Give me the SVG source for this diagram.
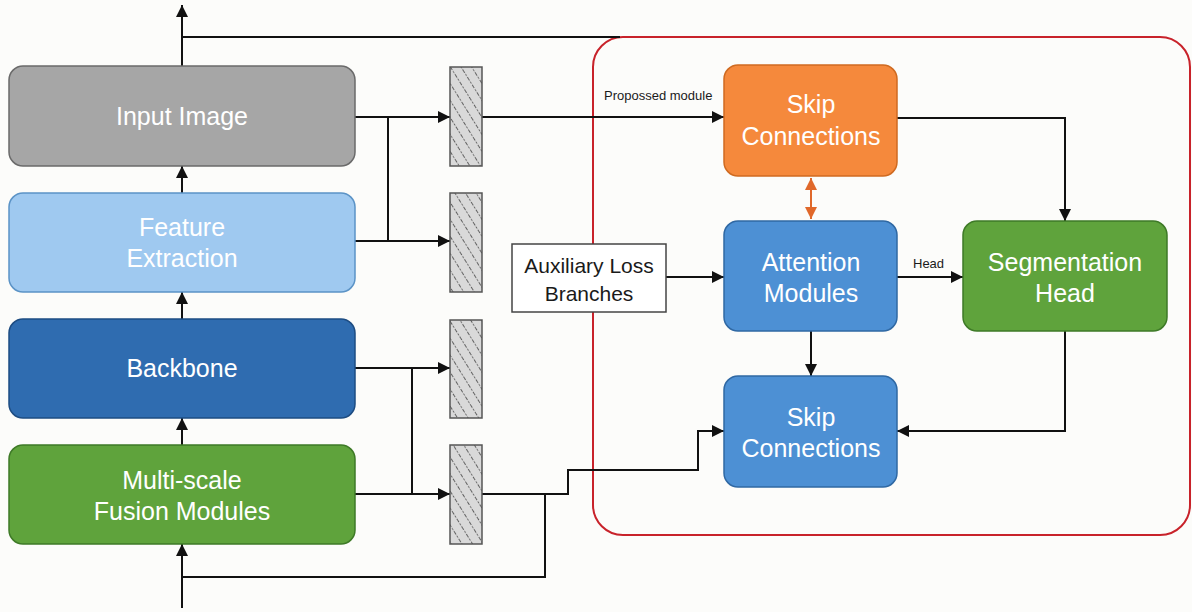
<svg xmlns="http://www.w3.org/2000/svg" width="1192" height="612" viewBox="0 0 1192 612">
<style>
.lbl{font-family:"Liberation Sans",Arial,sans-serif;font-size:25px;fill:#ffffff;text-anchor:middle}
.dark{font-family:"Liberation Sans",Arial,sans-serif;font-size:21px;fill:#1a1a1a;text-anchor:middle}
.small{font-family:"Liberation Sans",Arial,sans-serif;font-size:13px;fill:#1a1a1a}
.ln{fill:none;stroke:#111;stroke-width:2}
.hatch{fill:url(#hp);stroke:#555;stroke-width:1.5}
</style>
<defs>
<marker id="ahk" viewBox="0 0 10 10" refX="10" refY="5" markerWidth="13" markerHeight="12" orient="auto" markerUnits="userSpaceOnUse">
<path d="M0,0 L10,5 L0,10 z" fill="#111"/>
</marker>
<marker id="aho" viewBox="0 0 10 10" refX="10" refY="5" markerWidth="12" markerHeight="12" orient="auto-start-reverse" markerUnits="userSpaceOnUse">
<path d="M0,0 L10,5 L0,10 z" fill="#e0682a"/>
</marker>
<pattern id="hp" patternUnits="userSpaceOnUse" width="9" height="9" patternTransform="rotate(58)">
<rect width="9" height="9" fill="#d9d9d9"/>
<line x1="0" y1="4.5" x2="9" y2="4.5" stroke="#555" stroke-width="0.9" stroke-dasharray="2,1.5"/>
</pattern>
</defs>
<rect width="1192" height="612" fill="#fcfcfa"/>

<g id="proposed-region">
<rect x="593" y="37" width="597" height="498" rx="30" fill="none" stroke="#c8222a" stroke-width="2"/>
</g>

<g id="connectors">
<path class="ln" d="M182,66 V5" marker-end="url(#ahk)"/>
<path class="ln" d="M182,37 H620"/>
<path class="ln" d="M182,193 V166" marker-end="url(#ahk)"/>
<path class="ln" d="M182,319 V292" marker-end="url(#ahk)"/>
<path class="ln" d="M182,445 V418" marker-end="url(#ahk)"/>
<path class="ln" d="M182,608 V544" marker-end="url(#ahk)"/>
<path class="ln" d="M355,117 H450" marker-end="url(#ahk)"/>
<path class="ln" d="M388,117 V241 H450" marker-end="url(#ahk)"/>
<path class="ln" d="M355,241 H388"/>
<path class="ln" d="M355,368 H450" marker-end="url(#ahk)"/>
<path class="ln" d="M412,368 V494"/>
<path class="ln" d="M355,494 H450" marker-end="url(#ahk)"/>
<path class="ln" d="M482,117 H724" marker-end="url(#ahk)"/>
<path class="ln" d="M482,494 H568 V470 H698 V431 H724" marker-end="url(#ahk)"/>
<path class="ln" d="M545,494 V577 H182"/>
<path class="ln" d="M666,277 H724" marker-end="url(#ahk)"/>
<path class="ln" d="M897,277 H963" marker-end="url(#ahk)"/>
<path class="ln" d="M897,118 H1065 V221" marker-end="url(#ahk)"/>
<path class="ln" d="M811,331 V376" marker-end="url(#ahk)"/>
<path class="ln" d="M1065,331 V431 H897" marker-end="url(#ahk)"/>
<path d="M811,178 V219" fill="none" stroke="#e0682a" stroke-width="2" marker-start="url(#aho)" marker-end="url(#aho)"/>
<text class="small" x="604" y="100">Propossed module</text>
<text class="small" x="913" y="268">Head</text>
</g>

<g id="input-image">
<rect x="9" y="66" width="346" height="100" rx="14" fill="#a6a6a6" stroke="#6a6a6a" stroke-width="1.5"/>
<text class="lbl" x="182" y="125">Input Image</text>
</g>
<g id="feature-extraction">
<rect x="9" y="193" width="346" height="99" rx="14" fill="#9fc9f0" stroke="#5b93c6" stroke-width="1.5"/>
<text class="lbl" x="182" y="236">Feature</text>
<text class="lbl" x="182" y="267">Extraction</text>
</g>
<g id="backbone">
<rect x="9" y="319" width="346" height="99" rx="14" fill="#2f6cb0" stroke="#1d4c82" stroke-width="1.5"/>
<text class="lbl" x="182" y="377">Backbone</text>
</g>
<g id="fusion">
<rect x="9" y="445" width="346" height="99" rx="14" fill="#5fa33c" stroke="#3e7a27" stroke-width="1.5"/>
<text class="lbl" x="182" y="489">Multi-scale</text>
<text class="lbl" x="182" y="520">Fusion Modules</text>
</g>

<g id="hatch-1"><rect class="hatch" x="450" y="67" width="32" height="99"/></g>
<g id="hatch-2"><rect class="hatch" x="450" y="193" width="32" height="99"/></g>
<g id="hatch-3"><rect class="hatch" x="450" y="320" width="32" height="98"/></g>
<g id="hatch-4"><rect class="hatch" x="450" y="445" width="32" height="99"/></g>

<g id="aux-loss">
<rect x="512" y="244" width="154" height="68" fill="#ffffff" stroke="#444" stroke-width="1.5"/>
<text class="dark" x="589" y="273">Auxiliary Loss</text>
<text class="dark" x="589" y="301">Branches</text>
</g>
<g id="skip-orange">
<rect x="724" y="65" width="173" height="111" rx="14" fill="#f5893c" stroke="#cf6a20" stroke-width="1.5"/>
<text class="lbl" x="811" y="113">Skip</text>
<text class="lbl" x="811" y="145">Connections</text>
</g>
<g id="attention">
<rect x="724" y="221" width="173" height="110" rx="14" fill="#4d90d4" stroke="#2f68a3" stroke-width="1.5"/>
<text class="lbl" x="811" y="271">Attention</text>
<text class="lbl" x="811" y="302">Modules</text>
</g>
<g id="segmentation-head">
<rect x="963" y="221" width="204" height="110" rx="14" fill="#5fa33c" stroke="#3e7a27" stroke-width="1.5"/>
<text class="lbl" x="1065" y="271">Segmentation</text>
<text class="lbl" x="1065" y="302">Head</text>
</g>
<g id="skip-blue">
<rect x="724" y="376" width="173" height="111" rx="14" fill="#4d90d4" stroke="#2f68a3" stroke-width="1.5"/>
<text class="lbl" x="811" y="426">Skip</text>
<text class="lbl" x="811" y="457">Connections</text>
</g>
</svg>
